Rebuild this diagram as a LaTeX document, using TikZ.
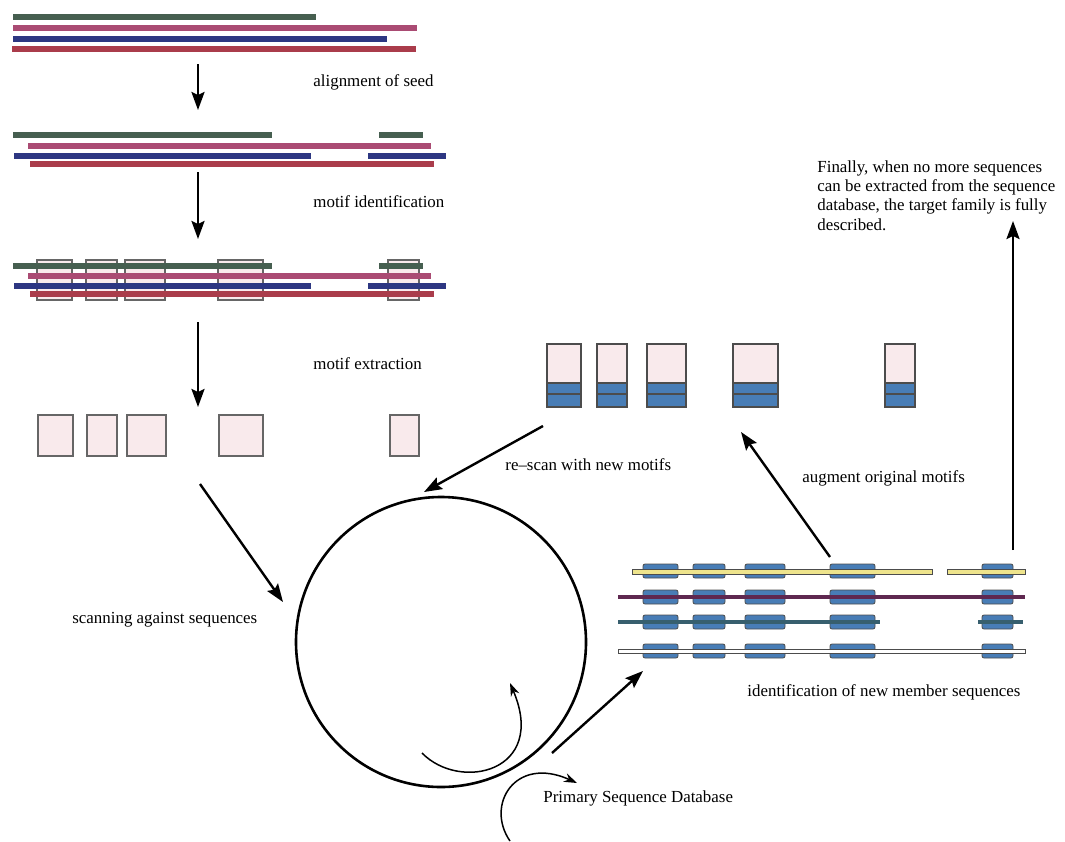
\documentclass[tikz,border=0pt]{standalone}
\usepackage{fontspec}
\setmainfont{Liberation Serif}
\usetikzlibrary{arrows.meta,positioning}
\definecolor{sgreen}{RGB}{70,95,80}
\definecolor{smag}{RGB}{170,75,115}
\definecolor{sblue}{RGB}{45,55,130}
\definecolor{sred}{RGB}{170,60,75}
\definecolor{mpink}{RGB}{249,234,236}
\definecolor{mblue}{RGB}{72,125,182}
\definecolor{syellow}{RGB}{238,228,140}
\definecolor{spurple}{RGB}{95,40,80}
\definecolor{steal}{RGB}{55,95,110}

\begin{document}
\begin{tikzpicture}[x=0.5pt, y=-0.5pt,
    seq/.style={line width=2.6pt},
    motif/.style={draw=black!60, fill=mpink, line width=0.6pt},
    hit/.style={draw=black!70, fill=mblue, rounded corners=1pt, line width=0.4pt},
    lbl/.style={font=\fontsize{8.45}{9.65}\selectfont, anchor=west, inner sep=0pt},
    arr/.style={-{Stealth[length=9pt, width=6.5pt, inset=1.5pt]}, line width=1.2pt},
    thin_arr/.style={-{Stealth[length=6.5pt, width=4.5pt]}, line width=0.75pt}
]
\useasboundingbox (0,0) rectangle (1065,841);

% Seed sequences
\draw[seq, sgreen] (13,17) -- (316,17);
\draw[seq, smag] (13,28) -- (417,28);
\draw[seq, sblue] (13,39) -- (387,39);
\draw[seq, sred] (12,49) -- (416,49);

% Aligned seed
\draw[seq, sgreen] (13,135) -- (272,135) (379,135) -- (423,135);
\draw[seq, smag] (28,146) -- (431,146);
\draw[seq, sblue] (14,156) -- (311,156) (368,156) -- (446,156);
\draw[seq, sred] (30,164) -- (434,164);

% Motifs on the alignment
\foreach \a/\b in {37/72, 86/117, 125/165, 218/263, 388/419}
    \draw[motif] (\a,260) rectangle (\b,300);
\draw[seq, sgreen] (13,266) -- (272,266) (379,266) -- (423,266);
\draw[seq, smag] (28,276) -- (431,276);
\draw[seq, sblue] (14,286) -- (311,286) (368,286) -- (446,286);
\draw[seq, sred] (30,294) -- (434,294);

% Extracted motifs
\foreach \a/\b in {38/73, 87/117, 127/166, 219/263, 390/419}
    \draw[motif] (\a,415) rectangle (\b,456);

% Augmented motifs
\foreach \a/\b in {547/581, 597/627, 647/686, 733/778, 885/915} {
    \fill[mpink] (\a,344) rectangle (\b,383);
    \fill[mblue] (\a,383) rectangle (\b,407);
    \draw[black!70, line width=0.6pt] (\a,394) -- (\b,394) (\a,383) -- (\b,383);
    \draw[black!70, line width=0.6pt] (\a,344) rectangle (\b,407);
}

% New member sequences
\foreach \a/\b in {643/678, 693/725, 745/785, 830/875, 982/1013} {
    \draw[hit] (\a,564) rectangle (\b,578);
    \draw[hit] (\a,590) rectangle (\b,604);
    \draw[hit] (\a,615) rectangle (\b,629);
    \draw[hit] (\a,644) rectangle (\b,658);
}
\draw[draw=black!70, fill=syellow, line width=0.4pt] (632,569) rectangle (932,574) (947,569) rectangle (1025,574);
\draw[seq, spurple, line width=2.3pt] (618,597) -- (1025,597);
\draw[seq, steal, line width=2.3pt] (618,622) -- (880,622) (978,622) -- (1023,622);
\draw[draw=black!70, fill=white, line width=0.5pt] (618,649.5) rectangle (1025,653);

% Sequence database
\node[draw, circle, line width=1.3pt, minimum size=145pt, inner sep=0pt] (db) at (441,642) {};

% Labels
\node[lbl] (l_seed) at (313,82) {alignment of seed};
\node[lbl] (l_ident) at (313,202) {motif identification};
\node[lbl] (l_extr) at (313,364) {motif extraction};
\node[lbl] (l_scan) at (72,620) {scanning against sequences};
\node[lbl] (l_rescan) at (505,465) {re--scan with new motifs};
\node[lbl] (l_augm) at (802,478) {augment original motifs};
\node[lbl] (l_newm) at (747,692) {identification of new member sequences};
\node[lbl] (l_psd) at (543,798) {Primary Sequence Database};
\node[lbl, anchor=north west, align=left] (l_final) at (817,160)
    {Finally, when no more sequences\\can be extracted from the sequence\\database, the target family is fully\\described.};

% Arrows
\coordinate (a1s) at (198,64);   \coordinate (a1e) at (198,110);
\coordinate (a2s) at (198,172);  \coordinate (a2e) at (198,239);
\coordinate (a3s) at (198,322);  \coordinate (a3e) at (198,407);
\coordinate (scs) at (200,484);  \coordinate (sce) at (283,602);
\coordinate (rss) at (543,426);  \coordinate (rse) at (424,492);
\coordinate (ags) at (830,557);  \coordinate (age) at (741,432);
\coordinate (fns) at (1013,550); \coordinate (fne) at (1013,221);
\coordinate (nms) at (552,753);  \coordinate (nme) at (643,671);
\draw[arr] (a1s) -- (a1e);
\draw[arr] (a2s) -- (a2e);
\draw[arr] (a3s) -- (a3e);
\draw[arr] (scs) -- (sce);
\draw[arr] (rss) -- (rse);
\draw[arr] (ags) -- (age);
\draw[arr] (fns) -- (fne);
\draw[arr] (nms) -- (nme);

% Curved arrows at the database
\coordinate (cis) at (422,753); \coordinate (cie) at (510,683);
\coordinate (chs) at (510,841); \coordinate (che) at (577,783);
\draw[thin_arr] (cis) .. controls (460,792) and (548,772) .. (cie);
\draw[thin_arr] (chs) .. controls (485,805) and (515,755) .. (che);

\end{tikzpicture}
\end{document}
